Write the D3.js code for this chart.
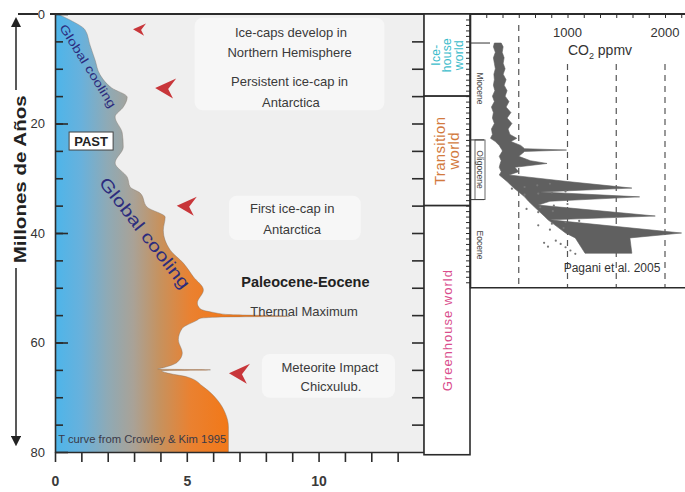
<!DOCTYPE html>
<html>
<head>
<meta charset="utf-8">
<script src="https://cdn.jsdelivr.net/npm/d3@7"></script>
<style>
    html, body { margin: 0; padding: 0; background: #fff; }
    svg { display: block; font-family: "Liberation Sans", Arial, sans-serif; }
</style>
</head>
<body>
<svg id="chart" width="685" height="492"></svg>
<script>
// Temperature curve (T curve from Crowley & Kim 1995): age in Ma, temperature in °C above today
const tempAge = [0, 1.1, 2.9, 5.7, 8.4, 11.1, 13.5, 15.2, 17.0, 18.8, 21.7, 24.3, 27.2, 29.8, 31.6, 32.7,
    35.3, 37.1, 39.5, 43.1, 45.5, 48.0, 50.4, 52.8, 53.8, 54.5, 54.9, 55.2, 55.35, 55.6, 55.9, 57.4, 59.5,
    61.9, 63.6, 64.6, 64.85, 65.0, 65.15, 65.5, 66.3, 68.1, 70.5, 72.9, 75.4, 80];
const tempVal = [0.1, 0.57, 1.14, 1.33, 1.52, 1.71, 2.15, 2.74, 2.59, 2.28, 2.55, 2.59, 2.28, 2.74, 2.85, 3.23,
    3.50, 4.18, 4.11, 4.37, 4.87, 5.25, 5.63, 5.40, 5.50, 6.0, 6.6, 8.9, 6.3, 5.5, 5.40, 4.83, 4.68,
    4.83, 4.64, 4.11, 3.9, 5.9, 4.05, 4.2, 5.02, 5.63, 6.16, 6.46, 6.58, 6.58];

// CO2 reconstruction (Pagani et al. 2005): age in Ma, lower and upper ppmv
const co2Age = [5.3, 6, 7, 8, 9, 10, 11, 12, 13, 14, 15, 16, 17, 18, 19, 20, 21, 22, 22.7, 23.3, 24, 24.6,
    24.85, 25.1, 26, 26.8, 27.3, 28, 28.8, 29.4, 30.6, 31.8, 32.5, 33.4, 34.2, 34.9, 36.9, 37.6, 40.0, 40.9, 43.7];
const co2Low = [250, 240, 260, 240, 250, 260, 245, 250, 240, 255, 230, 250, 220, 240, 230, 250, 220, 230, 210, 260, 300, 320,
    330, 330, 300, 320, 310, 300, 320, 300, 380, 450, 500, 560, 600, 640, 760, 800, 980, 1080, 1180];
const co2High = [320, 340, 330, 350, 340, 360, 340, 370, 350, 380, 360, 400, 370, 420, 380, 430, 390, 410, 480, 420, 520, 560,
    990, 560, 500, 620, 790, 460, 500, 400, 1000, 1660, 720, 1740, 820, 700, 1900, 820, 2170, 1640, 1660];

// scattered CO2 estimates (dots)
const dotAge = [31.9, 31.6, 31.3, 31.0, 33.0, 32.8, 32.6, 32.4, 35.6, 35.3, 35.0, 34.7, 36.2, 36.0,
    38.6, 38.3, 38.0, 37.8, 39.4, 39.1, 41.4, 42.0, 42.6, 43.2, 43.8, 41.8, 42.5];
const dotPpm = [430, 560, 690, 820, 560, 700, 840, 980, 580, 720, 860, 1000, 700, 850,
    700, 840, 980, 1120, 820, 960, 880, 930, 980, 1030, 1080, 760, 800];

// events marked with red arrows: age (Ma) and temperature position
const arrowAge = [2.8, 13.5, 35.0, 65.6];
const arrowT = [2.96, 3.80, 4.62, 6.60];
const arrowSize = [13, 21, 20, 21];

const yLabelTicks = [0, 20, 40, 60, 80];
const xLabelTicks = [0, 5, 10];
const co2Labels = [1000, 2000];
const co2Grid = [500, 1000, 1500, 2000];

// climate states along the age axis
const worlds = [
    { from: 0, to: 15, lines: ["Ice-", "house", "world"], color: "#3bbccb", size: 12 },
    { from: 15, to: 35, lines: ["Transition", "world"], color: "#d27a3e", size: 15 },
    { from: 35, to: 80.5, lines: ["Greenhouse world"], color: "#d94d8c", size: 13 }
];

const notes = [
    { text: "Ice-caps develop in", t: 8.95, age: 3.3 },
    { text: "Northern Hemisphere", t: 8.9, age: 7.1 },
    { text: "Persistent ice-cap in", t: 8.9, age: 12.4 },
    { text: "Antarctica", t: 8.95, age: 16.1 },
    { text: "First ice-cap in", t: 9.0, age: 35.6 },
    { text: "Antarctica", t: 9.0, age: 39.3 },
    { text: "Paleocene-Eocene", t: 9.5, age: 49.0, bold: true },
    { text: "Thermal Maximum", t: 9.45, age: 54.4 },
    { text: "Meteorite Impact", t: 10.43, age: 64.5 },
    { text: "Chicxulub.", t: 10.47, age: 68.1 }
];

const svg = d3.select("#chart");

const x = d3.scaleLinear().domain([0, 14]).range([55, 424]);
const y = d3.scaleLinear().domain([0, 80]).range([14, 452]);
const co2x = d3.scaleLinear().domain([0, 2000]).range([470, 665]);
const yCo2 = d3.scaleLinear().domain([0, 50]).range([y(0), y(50)]);

// plot background and soft label boxes
svg.append("rect")
    .attr("x", x(0)).attr("y", y(0))
    .attr("width", x(14) - x(0)).attr("height", y(80) - y(0))
    .attr("fill", "#efefef");

[[5.3, 12.5, 0.7, 17.6], [6.6, 11.6, 33.2, 41.3], [7.85, 12.9, 62.1, 70.1]].forEach(b => {
    svg.append("rect")
        .attr("x", x(b[0])).attr("y", y(b[2]))
        .attr("width", x(b[1]) - x(b[0])).attr("height", y(b[3]) - y(b[2]))
        .attr("rx", 8)
        .attr("fill", "#f7f7f7");
});

// gradient fill for the temperature curve
const grad = svg.append("defs").append("linearGradient")
    .attr("id", "tgrad")
    .attr("gradientUnits", "userSpaceOnUse")
    .attr("x1", x(0)).attr("x2", x(6.6)).attr("y1", 0).attr("y2", 0);
[[0, "#4db5ea"], [0.15, "#68b1dc"], [0.3, "#8eaab6"], [0.45, "#a9a297"], [0.6, "#c6925f"],
 [0.78, "#ea8130"], [1, "#f27818"]].forEach(s => {
    grad.append("stop").attr("offset", s[0]).attr("stop-color", s[1]);
});

const tempData = tempAge.map((a, i) => ({ age: a, t: tempVal[i] }));

svg.append("path")
    .datum(tempData)
    .attr("d", d3.area()
        .y(d => y(d.age))
        .x0(x(0))
        .x1(d => x(d.t))
        .curve(d3.curveMonotoneY))
    .attr("fill", "url(#tgrad)");

svg.append("path")
    .datum(tempData)
    .attr("d", d3.line()
        .y(d => y(d.age))
        .x(d => x(d.t))
        .curve(d3.curveMonotoneY))
    .attr("fill", "none")
    .attr("stroke", "#7d7268")
    .attr("stroke-opacity", 0.45)
    .attr("stroke-width", 0.9);

// red arrows
arrowAge.forEach((a, i) => {
    const s = arrowSize[i];
    const px = x(arrowT[i]), py = y(a);
    svg.append("path")
        .attr("d", `M${px},${py} L${px + s},${py - s * 0.45} L${px + s * 0.62},${py + s * 0.05} L${px + s * 0.85},${py + s * 0.5} Z`)
        .attr("fill", "#c8363a");
});

// annotations
notes.forEach(n => {
    svg.append("text")
        .attr("x", x(n.t)).attr("y", y(n.age))
        .attr("dy", "0.35em")
        .attr("text-anchor", "middle")
        .style("font-size", n.bold ? "14.5px" : "13px")
        .style("font-weight", n.bold ? "bold" : "normal")
        .attr("fill", n.bold ? "#222" : "#3a3a3a")
        .text(n.text);
});

svg.append("text")
    .attr("x", x(0.12)).attr("y", y(77.8))
    .attr("dy", "0.35em")
    .attr("textLength", 168)
    .attr("lengthAdjust", "spacingAndGlyphs")
    .style("font-size", "10px")
    .attr("fill", "#3a3a48")
    .text("T curve from Crowley & Kim 1995");

// "Global cooling" along the curve
[{ t: 1.25, age: 9.5, rot: 58, size: 12, len: 96 }, { t: 3.41, age: 40, rot: 52, size: 17, len: 136 }].forEach(g => {
    svg.append("text")
        .attr("transform", `translate(${x(g.t)},${y(g.age)}) rotate(${g.rot})`)
        .attr("dy", "0.35em")
        .attr("text-anchor", "middle")
        .attr("textLength", g.len)
        .attr("lengthAdjust", "spacingAndGlyphs")
        .style("font-size", g.size + "px")
        .attr("fill", "#2c2c7e")
        .text("Global cooling");
});

// PAST box
const past = svg.append("g").attr("transform", `translate(${x(1.37)},${y(23.2)})`);
past.append("rect").attr("x", -22).attr("y", -9).attr("width", 44).attr("height", 18)
    .attr("fill", "#fff").attr("stroke", "#444").attr("stroke-width", 1);
past.append("text").attr("text-anchor", "middle").attr("dy", "0.36em")
    .style("font-size", "13px").style("font-weight", "bold").attr("fill", "#222").text("PAST");

// main axes
const axisColor = "#2b2b2b";
function styleAxis(g) {
    g.selectAll("path, line").attr("stroke", axisColor).attr("stroke-width", 1.6);
    g.selectAll("text").attr("fill", "#333").style("font-family", "'Liberation Sans', Arial, sans-serif");
}

svg.append("g")
    .attr("transform", `translate(${x(0)},0)`)
    .call(d3.axisLeft(y).tickValues(d3.range(5, 80, 5)).tickSize(-8).tickSizeOuter(0).tickFormat(""))
    .call(styleAxis);

svg.append("line")
    .attr("x1", 18).attr("x2", 685).attr("y1", y(0)).attr("y2", y(0))
    .attr("stroke", axisColor).attr("stroke-width", 1.8);

svg.append("rect").attr("x", 38).attr("y", y(0) - 7).attr("width", 12).attr("height", 14).attr("fill", "#fff");

svg.append("g")
    .attr("transform", `translate(${x(0)},0)`)
    .call(d3.axisLeft(y).tickValues(yLabelTicks).tickSize(-13).tickSizeOuter(0).tickPadding(10))
    .call(styleAxis)
    .call(g => g.select(".domain").remove())
    .call(g => g.selectAll("text").style("font-size", "13px"));

svg.append("g")
    .attr("transform", `translate(${x(14)},0)`)
    .call(d3.axisLeft(y).tickValues(d3.range(5, 80, 5)).tickSize(12).tickSizeOuter(0).tickFormat(""))
    .call(styleAxis);

svg.append("g")
    .attr("transform", `translate(0,${y(80)})`)
    .call(d3.axisBottom(x).tickValues(d3.range(0, 14, 1)).tickSize(10).tickSizeOuter(0)
        .tickPadding(14).tickFormat(d => xLabelTicks.includes(d) ? d : ""))
    .call(styleAxis)
    .call(g => g.selectAll("text").style("font-size", "14px").style("font-weight", "bold").attr("fill", "#3a3a3a"));

// vertical age arrow and title
svg.append("defs").html(
    '<marker id="ah" viewBox="0 0 10 10" refX="5" refY="5" markerWidth="7" markerHeight="7" orient="auto-start-reverse">' +
    '<path d="M0,0 L10,5 L0,10 Z" fill="#222"/></marker>');
svg.append("line")
    .attr("x1", 16).attr("x2", 16).attr("y1", y(1.5)).attr("y2", y(78))
    .attr("stroke", "#222").attr("stroke-width", 1.5)
    .attr("marker-start", "url(#ah)").attr("marker-end", "url(#ah)");
svg.append("rect").attr("x", 8).attr("y", 90).attr("width", 22).attr("height", 178).attr("fill", "#fff");
svg.append("text")
    .attr("transform", `translate(20,${y(30.2)}) rotate(-90)`)
    .attr("text-anchor", "middle")
    .attr("dy", "0.35em")
    .attr("textLength", 168)
    .attr("lengthAdjust", "spacingAndGlyphs")
    .style("font-size", "17px")
    .style("font-weight", "bold")
    .attr("fill", "#222")
    .text("Millones de Años");

// climate state boxes
worlds.forEach(w => {
    const x0 = x(14), x1 = co2x(0);
    svg.append("rect")
        .attr("x", x0).attr("y", y(w.from))
        .attr("width", x1 - x0).attr("height", y(w.to) - y(w.from))
        .attr("fill", "#fff").attr("stroke", "#2b2b2b").attr("stroke-width", 1.6);
    const cx = (x0 + x1) / 2, cy = (y(w.from) + y(w.to)) / 2;
    const lh = w.size * 0.95;
    w.lines.forEach((l, i) => {
        svg.append("text")
            .attr("transform", `translate(${cx + (i - (w.lines.length - 1) / 2) * lh},${cy}) rotate(-90)`)
            .attr("text-anchor", "middle")
            .attr("dy", "0.35em")
            .style("font-size", w.size + "px")
            .style("letter-spacing", w.lines.length === 1 ? "1px" : "0.3px")
            .attr("fill", w.color)
            .text(l);
    });
});

// CO2 panel
co2Grid.forEach(v => {
    svg.append("line")
        .attr("x1", co2x(v)).attr("x2", co2x(v))
        .attr("y1", v === 500 ? y(0) + 11 : y(0) + 50).attr("y2", yCo2(50))
        .attr("stroke", "#555").attr("stroke-width", 1.2)
        .attr("stroke-dasharray", "6,5");
});

svg.append("g")
    .attr("transform", `translate(0,${y(0)})`)
    .call(d3.axisBottom(co2x).tickValues(d3.range(0, 2300, 500 / 3)).tickSize(4).tickSizeOuter(0).tickFormat(""))
    .call(styleAxis)
    .call(g => g.select(".domain").remove())
    .call(g => g.selectAll("line").attr("stroke-width", 1));

svg.append("g")
    .attr("transform", `translate(${co2x(0)},0)`)
    .call(d3.axisLeft(yCo2).tickValues(d3.range(1, 50, 1)).tickSize(4).tickSizeOuter(0).tickFormat(""))
    .call(styleAxis)
    .call(g => g.selectAll(".tick line").attr("stroke-width", 1));

svg.append("line")
    .attr("x1", co2x(0)).attr("x2", 685).attr("y1", yCo2(50)).attr("y2", yCo2(50))
    .attr("stroke", axisColor).attr("stroke-width", 1.4);

co2Labels.forEach(v => {
    svg.append("text")
        .attr("x", co2x(v)).attr("y", 32).attr("dy", "0.35em")
        .attr("text-anchor", "middle")
        .style("font-size", "13px").attr("fill", "#333")
        .text(v);
});

const co2Title = svg.append("text")
    .attr("x", 600).attr("y", 50).attr("dy", "0.35em")
    .attr("text-anchor", "middle")
    .style("font-size", "14px").attr("fill", "#333");
co2Title.append("tspan").text("CO");
co2Title.append("tspan").attr("dy", 4).style("font-size", "9px").text("2");
co2Title.append("tspan").attr("dy", -4).text(" ppmv");

// epoch boundaries and labels
[5.3, 23, 33.9].forEach((a, i) => {
    svg.append("line")
        .attr("x1", co2x(0)).attr("x2", co2x(0) + (i === 0 ? 20 : 14))
        .attr("y1", yCo2(a)).attr("y2", yCo2(a))
        .attr("stroke", "#333").attr("stroke-width", 1);
});
svg.append("rect")
    .attr("x", co2x(0) + 5).attr("y", yCo2(23)).attr("width", 10).attr("height", yCo2(33.9) - yCo2(23))
    .attr("fill", "none").attr("stroke", "#444").attr("stroke-width", 0.8);
[["Miocene", 13.6], ["Oligocene", 28.4], ["Eocene", 42.2]].forEach(e => {
    svg.append("text")
        .attr("transform", `translate(${co2x(0) + 10},${yCo2(e[1])}) rotate(90)`)
        .attr("text-anchor", "middle")
        .attr("dy", "0.35em")
        .style("font-size", "8.5px").attr("fill", "#444")
        .text(e[0]);
});

// CO2 band
const co2Data = co2Age.map((a, i) => ({ age: a, lo: co2Low[i], hi: co2High[i] }));
svg.append("path")
    .datum(co2Data)
    .attr("d", d3.area()
        .y(d => yCo2(d.age))
        .x0(d => co2x(d.lo))
        .x1(d => co2x(d.hi)))
    .attr("fill", "#606060")
    .attr("stroke", "#606060")
    .attr("stroke-width", 0.6);

svg.append("g").selectAll("circle")
    .data(dotAge.map((a, i) => ({ age: a, v: dotPpm[i] })))
    .join("circle")
    .attr("cx", d => co2x(d.v))
    .attr("cy", d => yCo2(d.age))
    .attr("r", 1.1)
    .attr("fill", "#777");

svg.append("text")
    .attr("x", 612).attr("y", 268).attr("dy", "0.35em")
    .attr("text-anchor", "middle")
    .style("font-size", "12px").attr("fill", "#333")
    .text("Pagani et al. 2005");
</script>
</body>
</html>
